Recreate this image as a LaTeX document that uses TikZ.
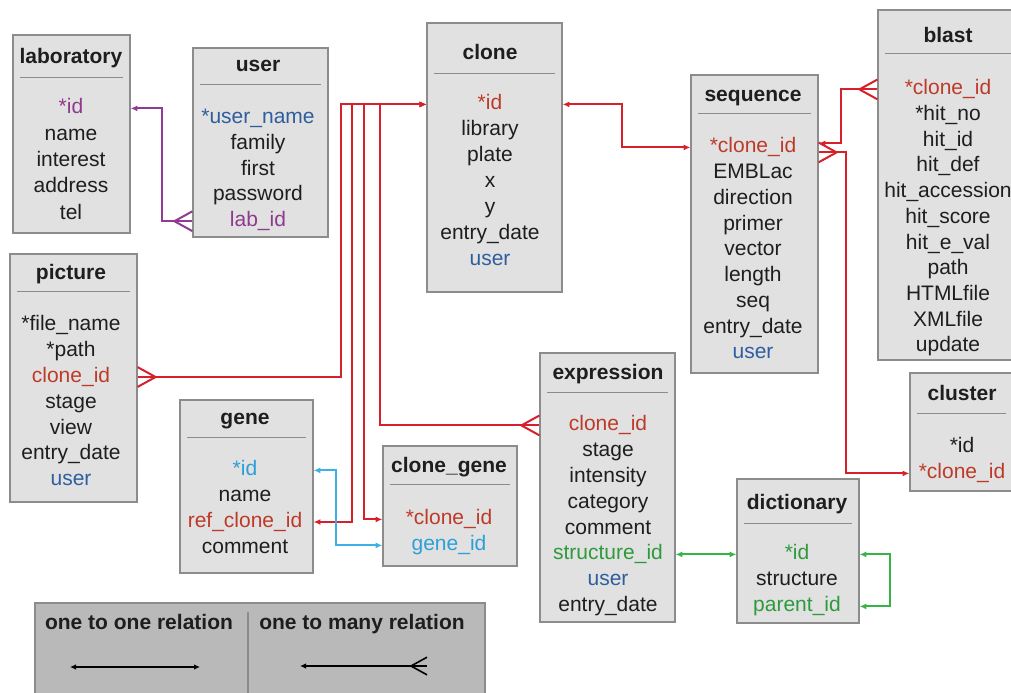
\documentclass[tikz,border=0pt]{standalone}
\usepackage{fontspec}
\setmainfont{Liberation Sans}
\usetikzlibrary{arrows.meta,fit,decorations.markings}

\definecolor{boxfill}{HTML}{E1E1E1}
\definecolor{boxline}{HTML}{8C8C8C}
\definecolor{legfill}{HTML}{B9B9B9}
\definecolor{txt}{HTML}{1E1E1E}
\definecolor{relred}{HTML}{D8202B}
\definecolor{keyred}{HTML}{BE3A28}
\definecolor{keyblue}{HTML}{2F5E9E}
\definecolor{keypurple}{HTML}{8E3A8E}
\definecolor{relpurple}{HTML}{913C92}
\definecolor{relcyan}{HTML}{3DB0E6}
\definecolor{keycyan}{HTML}{2C9FD8}
\definecolor{relgreen}{HTML}{34B545}
\definecolor{keygreen}{HTML}{2E9A3C}

\tikzset{
  tbl/.style={draw=boxline, fill=boxfill, line width=0.6pt, inner sep=0pt},
  tblrule/.style={draw=boxline, line width=0.5pt},
  field/.style={font=\fontsize{10.5}{12}\selectfont, inner sep=0pt,
    text height=7.6pt, text depth=2.2pt, text=txt, yshift=-1.2pt},
  tbltitle/.style={field, font=\fontsize{10.5}{12}\selectfont\bfseries},
  crowend/.style={postaction={decorate, decoration={markings,
    mark=at position 1 with {\draw[-] (-#1,0pt) -- (0pt,{0.55*#1})
      (-#1,0pt) -- (0pt,{-0.55*#1});}}}},
  crowend/.default=9pt,
  rel/.style={line width=1pt, >={Latex[length=3.4pt,width=3pt]}},
  one2one/.style={rel, <->},
  one2many/.style={rel, <-, crowend},
  legendbox/.style={draw=boxline, fill=legfill, line width=0.6pt, inner sep=0pt},
  legendrel/.style={black, line width=0.8pt, >={Latex[length=3pt,width=2.8pt]}}
}

% table frame: name, left, top, right, bottom, text x, title, title y, rule y
\newcommand{\erbox}[9]{%
  \node[tbl, fit={(#2,#3) (#4,#5)}] (#1) {};
  \node[tbltitle] (#1-title) at (#6,#8) {#7};
  \draw[tblrule] ({#2+7},#9) -- ({#4-7},#9);}
% table fields: name, x, first y, step, colour/text list
\newcommand{\erfields}[5]{%
  \foreach \clr/\fld [count=\i] in {#5}
    \node[field, text=\clr] (#1-\i) at (#2,{#3+#4*(\i-1)}) {\fld};}

\begin{document}
\begin{tikzpicture}[x=0.5pt, y=-0.5pt]
\useasboundingbox[fill=white] (0,0) rectangle (1011,692);
\clip (0,0) rectangle (1011,692);

% tables
\erbox{lab}{13}{35}{130}{233}{71}{laboratory}{56}{77}
\erfields{lab}{71}{106}{26.3}{keypurple/*id, txt/name, txt/interest, txt/address, txt/tel}

\erbox{user}{193}{48}{328}{237}{258}{user}{64}{84}
\erfields{user}{258}{116}{25.7}{keyblue/*user\_name, txt/family, txt/first, txt/password, keypurple/lab\_id}

\erbox{clone}{427}{23}{562}{292}{490}{clone}{52}{73}
\erfields{clone}{490}{102}{26}{keyred/*id, txt/library, txt/plate, txt/x, txt/y, txt/entry\_date, keyblue/user}

\erbox{seq}{691}{75}{818}{373}{753}{sequence}{94}{113}
\erfields{seq}{753}{145}{25.75}{keyred/*clone\_id, txt/EMBLac, txt/direction, txt/primer, txt/vector, txt/length, txt/seq, txt/entry\_date, keyblue/user}

\erbox{blast}{878}{10}{1019}{360}{948}{blast}{35}{53}
\erfields{blast}{948}{87}{25.7}{keyred/*clone\_id, txt/*hit\_no, txt/hit\_id, txt/hit\_def, txt/hit\_accession, txt/hit\_score, txt/hit\_e\_val, txt/path, txt/HTMLfile, txt/XMLfile, txt/update}

\erbox{cluster}{910}{373}{1013}{491}{962}{cluster}{393}{413}
\erfields{cluster}{962}{445}{26}{txt/*id, keyred/*clone\_id}

\erbox{pic}{10}{254}{137}{502}{71}{picture}{272}{291}
\erfields{pic}{71}{323}{25.8}{txt/*file\_name, txt/*path, keyred/clone\_id, txt/stage, txt/view, txt/entry\_date, keyblue/user}

\erbox{gene}{180}{400}{313}{573}{245}{gene}{417}{437}
\erfields{gene}{245}{468}{25.8}{keycyan/*id, txt/name, keyred/ref\_clone\_id, txt/comment}

\erbox{clonegene}{383}{446}{517}{566}{449}{clone\_gene}{465}{484}
\erfields{clonegene}{449}{517}{26}{keyred/*clone\_id, keycyan/gene\_id}

\erbox{expr}{540}{353}{675}{622}{608}{expression}{372}{392}
\erfields{expr}{608}{423}{25.8}{keyred/clone\_id, txt/stage, txt/intensity, txt/category, txt/comment, keygreen/structure\_id, keyblue/user, txt/entry\_date}

\erbox{dict}{737}{479}{859}{623}{797}{dictionary}{502}{523}
\erfields{dict}{797}{552}{26}{keygreen/*id, txt/structure, keygreen/parent\_id}

% relations
\draw[one2many, relpurple] (lab.east |- lab-1) -| (162,160) |- (user.west |- user-5);
\draw[one2many, relred] (clone.west |- clone-1) -| (341,250) |- (pic.east |- pic-3);
\draw[one2one, relred] (clone.west |- clone-1) -| (352,300) |- (gene.east |- gene-3);
\draw[one2one, relred] (clone.west |- clone-1) -| (364,300) |- (clonegene.west |- clonegene-1);
\draw[one2many, relred] (clone.west |- clone-1) -| (380,300) |- (expr.west |- expr-1);
\draw[one2one, relred] (clone.east |- clone-1) -| (622,120) |- (seq.west |- seq-1);
\draw[one2many, relred] ([yshift=2pt]seq.east |- seq-1) -| (841,110) |- (blast.west |- blast-1);
\draw[one2many, relred] (cluster.west |- cluster-2) -| (846,300) |- ([yshift=-2.5pt]seq.east |- seq-1);
\draw[one2one, relcyan] (gene.east |- gene-1) -| (336,500) |- (clonegene.west |- clonegene-2);
\draw[one2one, relgreen] (expr.east |- expr-6) -- (dict.west |- dict-1);
\draw[one2one, relgreen] (dict.east |- dict-1) -| (890,580) |- (dict.east |- dict-3);

% legend
\node[legendbox, fit={(35,603) (485,700)}] (legend) {};
\draw[tblrule, line width=0.8pt] (248,612) -- (248,700);
\node[tbltitle] (leg-one) at (139,622) {one to one relation};
\node[tbltitle] (leg-many) at (362,622) {one to many relation};
\coordinate (oneA) at (70,667);
\coordinate (oneB) at (200,667);
\coordinate (manyA) at (300,666);
\coordinate (manyB) at (427,666);
\draw[legendrel, <->] (oneA) -- (oneB);
\draw[legendrel, <-, crowend=8pt] (manyA) -- (manyB);
\end{tikzpicture}
\end{document}
